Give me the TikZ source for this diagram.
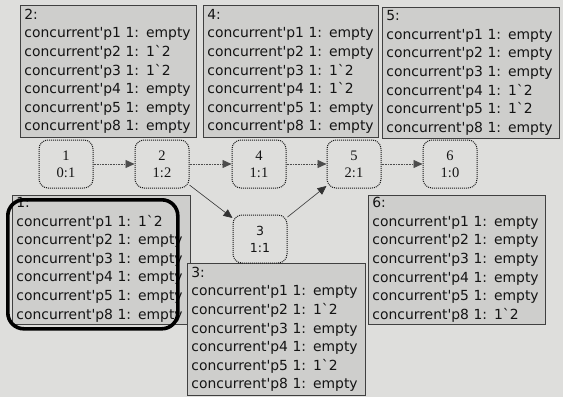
\documentclass[tikz,border=0pt]{standalone}
\usepackage{fontspec}
\newfontfamily\boxfont{DejaVu Sans}
\newfontfamily\nodefont{Liberation Serif}
\usetikzlibrary{arrows.meta}
\definecolor{bgc}{RGB}{222,222,220}
\definecolor{boxc}{RGB}{206,206,204}
\definecolor{inkc}{RGB}{20,20,20}
\newcommand{\myap}{\symbol{39}}
\newcommand{\mygr}{\symbol{96}}
\newcommand{\myline}[2]{concurrent\myap p#1 1: #2}
\newcommand{\one}{1\mygr 2}
\tikzset{
  infobox/.style={draw=black!75, fill=boxc, anchor=north west, align=left,
    inner xsep=4pt, inner ysep=2pt, text=inkc, line width=0.8pt, text width=175pt,
    font=\boxfont\fontsize{13.9}{18.6}\selectfont},
  statebox/.style={draw=black!90, fill=bgc, densely dotted, line width=1pt, rounded corners=9pt,
    minimum width=54pt, minimum height=48pt, align=center, inner sep=0pt,
    font=\nodefont\fontsize{14.5}{17}\selectfont, text=inkc},
  arc/.style={-{Triangle[length=9pt,width=8pt]}, line width=0.6pt},
  hz/.style={arc, draw=black!70, densely dotted},
}
\begin{document}
\begin{tikzpicture}[x=1pt,y=-1pt]
\useasboundingbox[fill=bgc] (0,0) rectangle (563,397);
% info boxes
\node[infobox, minimum height=132pt, text width=168pt] (b2) at (20,5)
 {2:\\\myline{1}{empty}\\\myline{2}{\one}\\\myline{3}{\one}\\\myline{4}{empty}\\\myline{5}{empty}\\\myline{8}{empty}};
\node[infobox, minimum height=132pt, text width=167pt] (b4) at (203,5)
 {4:\\\myline{1}{empty}\\\myline{2}{empty}\\\myline{3}{\one}\\\myline{4}{\one}\\\myline{5}{empty}\\\myline{8}{empty}};
\node[infobox, minimum height=131pt, text width=169pt] (b5) at (382,7)
 {5:\\\myline{1}{empty}\\\myline{2}{empty}\\\myline{3}{empty}\\\myline{4}{\one}\\\myline{5}{\one}\\\myline{8}{empty}};
\node[infobox, minimum height=128pt, text width=170pt] (b1) at (12,195)
 {1:\\\myline{1}{\one}\\\myline{2}{empty}\\\myline{3}{empty}\\\myline{4}{empty}\\\myline{5}{empty}\\\myline{8}{empty}};
\node[infobox, minimum height=128pt, text width=169pt] (b6) at (368,195)
 {6:\\\myline{1}{empty}\\\myline{2}{empty}\\\myline{3}{empty}\\\myline{4}{empty}\\\myline{5}{empty}\\\myline{8}{\one}};
\node[infobox, minimum height=132pt, text width=170pt] (b3) at (187,263)
 {3:\\\myline{1}{empty}\\\myline{2}{\one}\\\myline{3}{empty}\\\myline{4}{empty}\\\myline{5}{\one}\\\myline{8}{empty}};
% highlight
\node[draw=black, line width=3.6pt, rounded corners=16pt, minimum width=170pt, minimum height=129pt,
  anchor=north west, inner sep=0pt] (hl) at (6,198) {};
% state nodes
\node[statebox] (n1) at (66,164) {1\\0:1};
\node[statebox] (n2) at (162,164) {2\\1:2};
\node[statebox] (n4) at (259,164) {4\\1:1};
\node[statebox] (n5) at (354,164) {5\\2:1};
\node[statebox] (n6) at (450,164) {6\\1:0};
\node[statebox, font=\boxfont\fontsize{12.5}{17}\selectfont] (n3) at (260,239) {3\\1:1};
% arcs
\draw[hz] (n1) -- (n2);
\draw[hz] (n2) -- (n4);
\draw[hz] (n4) -- (n5);
\draw[hz] (n5) -- (n6);
\draw[arc, draw=black!80] (n2) -- (n3);
\draw[arc, draw=black!80] (n3) -- (n5);
\end{tikzpicture}
\end{document}
